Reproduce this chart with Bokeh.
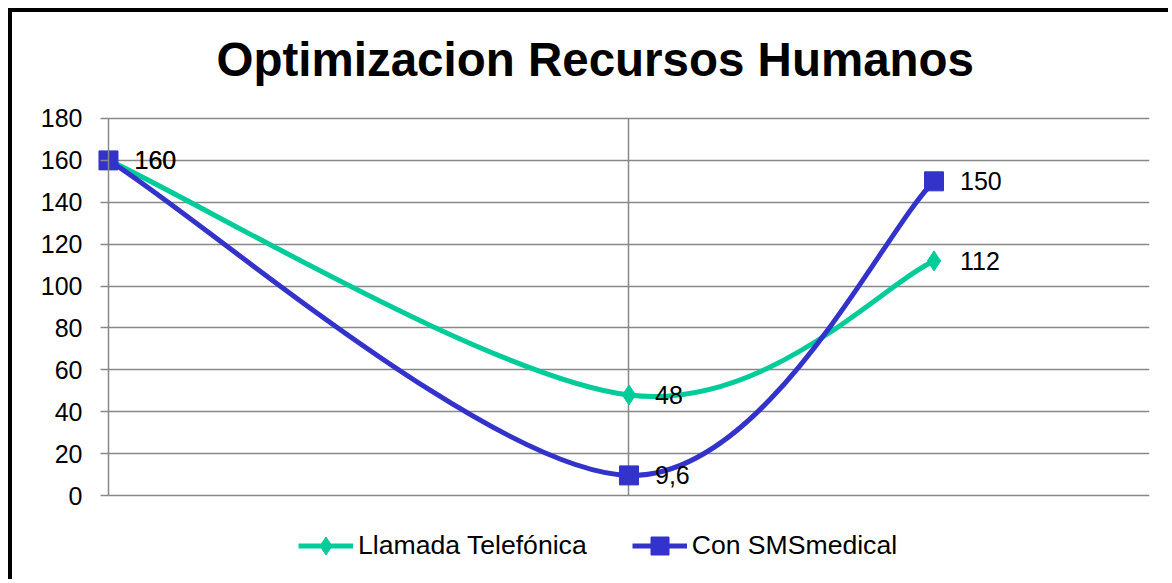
from bokeh.plotting import figure
from bokeh.models import (Range1d, FixedTicker, Legend, LegendItem, Label,
                          ColumnDataSource)
from bokeh.core.properties import value
from bokeh.embed import file_html
from bokeh.resources import INLINE

# ---------------- data ----------------
title_text = "Optimizacion Recursos Humanos"
x_vals = [0, 5, 7.93]
llamada = [160, 48, 112]
sms = [160, 9.6, 150]
llamada_labels = ["160", "48", "112"]
sms_labels = ["160", "9,6", "150"]
series_names = ["Llamada Telefónica", "Con SMSmedical"]
y_ticks = [0, 20, 40, 60, 80, 100, 120, 140, 160, 180]
x_grid_ticks = [5, 10]

FONT = "Liberation Sans"
GREEN = "#00CC99"
BLUE = "#3333CC"
GRID = "#888888"


def smooth_segments(xs, ys):
    """Bezier segments (Excel-like smoothing, Catmull-Rom tangents)."""
    n = len(xs)
    pts = list(zip(xs, ys))
    seg = dict(x0=[], y0=[], x1=[], y1=[], cx0=[], cy0=[], cx1=[], cy1=[])
    for i in range(n - 1):
        pm = pts[i - 1] if i > 0 else pts[i]
        p0 = pts[i]
        p1 = pts[i + 1]
        pp = pts[i + 2] if i + 2 < n else pts[i + 1]
        seg["x0"].append(p0[0]); seg["y0"].append(p0[1])
        seg["x1"].append(p1[0]); seg["y1"].append(p1[1])
        seg["cx0"].append(p0[0] + (p1[0] - pm[0]) / 6.0)
        seg["cy0"].append(p0[1] + (p1[1] - pm[1]) / 6.0)
        seg["cx1"].append(p1[0] - (pp[0] - p0[0]) / 6.0)
        seg["cy1"].append(p1[1] - (pp[1] - p0[1]) / 6.0)
    return ColumnDataSource(seg)


# The frame fills the canvas (except a right margin) so that edge markers,
# axis labels, title and legend are never clipped; axis and grids are bounded
# to the data area (x 0..10, y 0..180).
p = figure(width=1160, height=571, output_backend="svg", toolbar_location=None,
           x_range=Range1d(-0.922, 10), y_range=Range1d(-42.0, 230.6),
           x_axis_location=None, title_location=None,
           min_border_left=0, min_border_right=23, min_border_top=0,
           min_border_bottom=0,
           background_fill_color="white", border_fill_color="white",
           outline_line_color=None,
           styles={"margin-left": "8px", "margin-top": "8px",
                   "border-left": "4px solid black",
                   "border-top": "4px solid black"})

# title (screen units, measured from the frame's bottom-left)
p.add_layout(Label(x=204, y=524, x_units="screen", y_units="screen",
                   text=title_text, text_font=FONT, text_font_size="47.5px",
                   text_font_style="bold", text_color="black",
                   text_align="left", text_baseline="alphabetic"))

# grid / axis
p.xgrid.ticker = FixedTicker(ticks=x_grid_ticks)
p.xgrid.cross_bounds = (0, 180)
p.xgrid.grid_line_color = GRID
p.xgrid.grid_line_width = 1.5
p.ygrid.ticker = FixedTicker(ticks=y_ticks)
p.ygrid.cross_bounds = (0, 10)
p.ygrid.grid_line_color = GRID
p.ygrid.grid_line_width = 1.5

yax = p.yaxis[0]
yax.fixed_location = 0
yax.ticker = FixedTicker(ticks=y_ticks)
yax.bounds = (0, 180)
yax.axis_line_color = GRID
yax.axis_line_width = 1.5
yax.major_tick_line_color = GRID
yax.major_tick_line_width = 1.5
yax.major_tick_out = 8
yax.major_tick_in = 0
yax.minor_tick_line_color = None
yax.major_label_standoff = 18
yax.major_label_text_font = FONT
yax.major_label_text_font_size = "25px"
yax.major_label_text_color = "black"

# series
g_line = p.bezier(x0="x0", y0="y0", x1="x1", y1="y1", cx0="cx0", cy0="cy0",
                  cx1="cx1", cy1="cy1", source=smooth_segments(x_vals, llamada),
                  line_color=GREEN, line_width=5)
g_mark = p.scatter(x_vals, llamada, marker="diamond", size=20,
                   fill_color=GREEN, line_color=GREEN)
b_line = p.bezier(x0="x0", y0="y0", x1="x1", y1="y1", cx0="cx0", cy0="cy0",
                  cx1="cx1", cy1="cy1", source=smooth_segments(x_vals, sms),
                  line_color=BLUE, line_width=5)
b_mark = p.scatter(x_vals, sms, marker="square", size=19,
                   fill_color=BLUE, line_color=BLUE)

for ys, labs in ((llamada, llamada_labels), (sms, sms_labels)):
    p.text(x=x_vals, y=ys, text=labs, x_offset=26, text_baseline="middle",
           text_align="left", text_font=value(FONT), text_font_size="25px",
           text_color="black")

legend = Legend(items=[LegendItem(label=series_names[0], renderers=[g_line, g_mark]),
                       LegendItem(label=series_names[1], renderers=[b_line, b_mark])],
                location=(286, 15), orientation="horizontal",
                glyph_width=55, glyph_height=45, label_standoff=5, spacing=45,
                padding=0, margin=0, border_line_color=None,
                background_fill_alpha=0, label_text_font=FONT,
                label_text_font_size="26.6px", label_text_color="black")
p.add_layout(legend, "center")

open("out.html", "w").write(file_html(p, INLINE))
